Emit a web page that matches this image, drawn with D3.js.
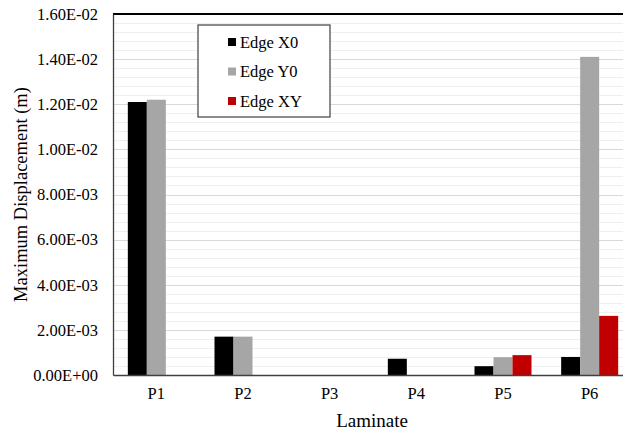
<!DOCTYPE html>
<html>
<head>
<meta charset="utf-8">
<script src="https://cdn.jsdelivr.net/npm/d3@7/dist/d3.min.js"></script>
</head>
<body style="margin:0">
<svg id="chart" width="623" height="433" font-family="Liberation Serif"></svg>
<script>
// categories and series
const laminates = ['P1', 'P2', 'P3', 'P4', 'P5', 'P6'];
const seriesNames = ['Edge X0', 'Edge Y0', 'Edge XY'];
const edgeX0 = [0.0121, 0.0017, 0, 0.00072, 0.00039, 0.0008];
const edgeY0 = [0.0122, 0.0017, 0, 0, 0.00079, 0.0141];
const edgeXY = [0, 0, 0, 0, 0.00088, 0.00262];
const colors = ['#000000', '#a6a6a6', '#c00000'];

const yTicks = [0, 0.002, 0.004, 0.006, 0.008, 0.010, 0.012, 0.014, 0.016];
const yTickLabels = ['0.00E+00', '2.00E-03', '4.00E-03', '6.00E-03', '8.00E-03',
  '1.00E-02', '1.20E-02', '1.40E-02', '1.60E-02'];

const svg = d3.select('#chart'),
  margin = {top: 14, left: 113},
  // plot runs past the right edge of the picture, cropped like the original
  width = 520,
  height = 361;

const values = [edgeX0, edgeY0, edgeXY];

const x = d3.scaleBand().domain(laminates).range([0, width]);
const x1 = d3.scaleBand().domain(seriesNames)
  .range([x.bandwidth() / 2 - 28.5, x.bandwidth() / 2 + 28.5]);
const y = d3.scaleLinear().domain([0, 0.016]).range([height, 0]);

const g = svg.append('g')
  .attr('transform', 'translate(' + margin.left + ',' + margin.top + ')');

// minor gridlines
const minor = d3.range(0, 0.0160001, 0.0004);
g.append('g').selectAll('line').data(minor).enter().append('line')
  .attr('x1', 0).attr('x2', width)
  .attr('y1', d => Math.round(y(d)) + 0.5).attr('y2', d => Math.round(y(d)) + 0.5)
  .attr('stroke', '#efefef');

// major gridlines
g.append('g').selectAll('line').data(yTicks).enter().append('line')
  .attr('x1', 0).attr('x2', width)
  .attr('y1', d => Math.round(y(d)) + 0.5).attr('y2', d => Math.round(y(d)) + 0.5)
  .attr('stroke', '#d9d9d9').attr('stroke-width', 1.2);

// bars
const groups = g.selectAll('.grp').data(laminates).enter().append('g')
  .attr('class', 'grp')
  .attr('transform', d => 'translate(' + x(d) + ',0)');

groups.selectAll('rect')
  .data((d, i) => seriesNames.map((s, j) => ({s: s, v: values[j][i], c: colors[j]})))
  .enter().append('rect')
  .attr('x', d => x1(d.s))
  .attr('width', x1.bandwidth())
  .attr('y', d => y(d.v))
  .attr('height', d => height - y(d.v))
  .attr('fill', d => d.c);

// top border
g.append('line').attr('x1', 0).attr('x2', width).attr('y1', 0).attr('y2', 0)
  .attr('stroke', '#000').attr('stroke-width', 2);

// y axis
const yAxis = g.append('g')
  .call(d3.axisLeft(y).tickValues(yTicks).tickSize(0).tickPadding(15)
    .tickFormat((d, i) => yTickLabels[i]));
yAxis.attr('font-family', 'Liberation Serif').attr('font-size', 16.5);
yAxis.select('.domain').attr('stroke', '#404040').attr('stroke-width', 1.3);
yAxis.selectAll('text').attr('fill', '#000').attr('font-family', 'Liberation Serif');

// x axis
const xAxis = g.append('g')
  .attr('transform', 'translate(0,' + height + ')')
  .call(d3.axisBottom(x).tickSize(0).tickPadding(12));
xAxis.attr('font-family', 'Liberation Serif').attr('font-size', 16.5);
xAxis.select('.domain').attr('stroke', '#404040').attr('stroke-width', 1.5);
xAxis.selectAll('text').attr('fill', '#000').attr('font-family', 'Liberation Serif');

// axis titles
svg.append('text')
  .attr('transform', 'translate(27,' + (margin.top + height / 2) + ') rotate(-90)')
  .attr('text-anchor', 'middle')
  .attr('font-family', 'Liberation Serif').attr('font-size', 18.5)
  .text('Maximum Displacement (m)');

svg.append('text')
  .attr('x', 372).attr('y', 427)
  .attr('text-anchor', 'middle')
  .attr('font-family', 'Liberation Serif').attr('font-size', 19)
  .text('Laminate');

// legend
const legend = svg.append('g').attr('transform', 'translate(198,25)');
legend.append('rect')
  .attr('width', 132).attr('height', 92)
  .attr('fill', '#fff').attr('stroke', '#404040').attr('stroke-width', 1.2);
const items = legend.selectAll('.item').data(seriesNames).enter().append('g')
  .attr('class', 'item')
  .attr('transform', (d, i) => 'translate(0,' + (17 + i * 29.5) + ')');
items.append('rect')
  .attr('x', 30).attr('y', -4).attr('width', 8).attr('height', 8)
  .attr('fill', (d, i) => colors[i]);
items.append('text')
  .attr('x', 42).attr('y', 5.5)
  .attr('font-family', 'Liberation Serif').attr('font-size', 16.5)
  .text(d => d);
</script>
</body>
</html>
